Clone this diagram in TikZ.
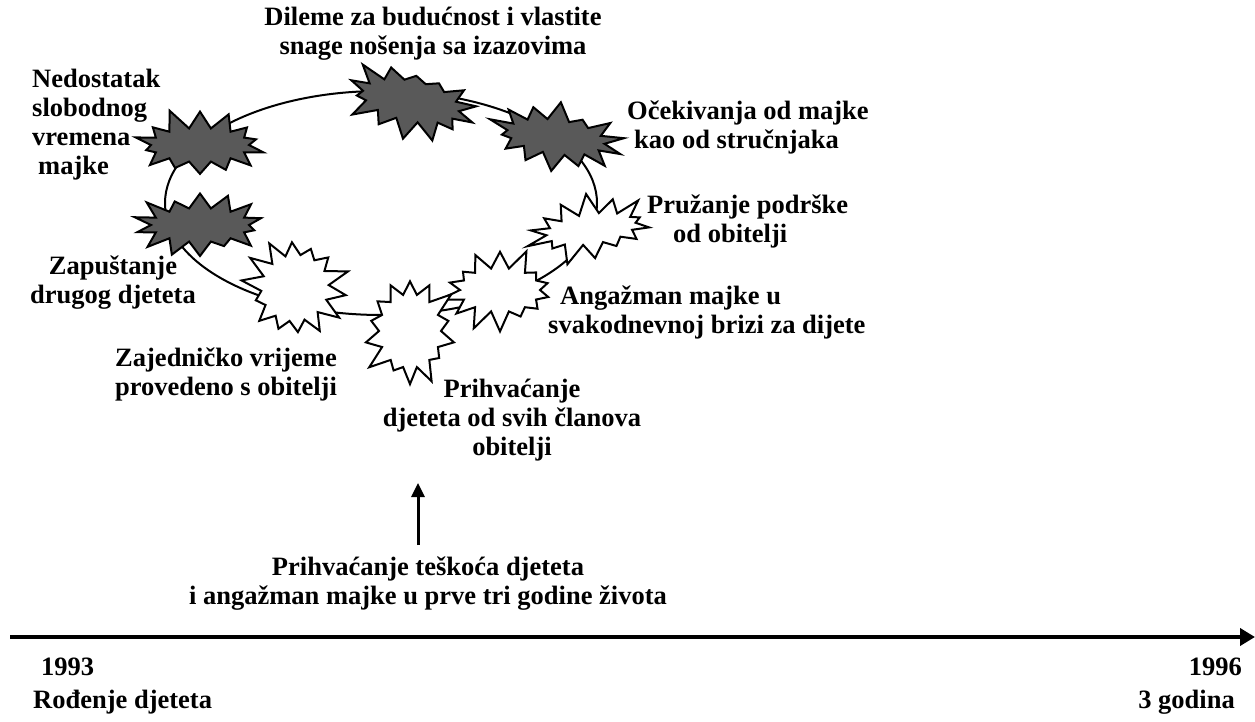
\documentclass[tikz,border=0pt]{standalone}
\usepackage{fontspec}
\setmainfont{Liberation Serif}
\usetikzlibrary{arrows.meta,backgrounds,shapes.symbols}
\definecolor{burstdark}{HTML}{595959}
\definecolor{inkblack}{HTML}{000000}
\tikzset{
  burst/.style={starburst,draw=inkblack,line width=2pt,starburst points=14,
    starburst point height=22pt,inner sep=0pt,minimum width=142pt,minimum height=78pt},
  darkburst/.style={burst,fill=burstdark},
  lightburst/.style={burst,fill=white},
  lbl/.style={font=\bfseries\fontsize{26.5}{29}\selectfont,inner sep=0pt,align=center},
  ring/.style={draw=inkblack,line width=2pt},
  timeline/.style={-{Triangle[length=15pt,width=17pt]},line width=4pt},
  uparrow/.style={-{Triangle[length=14pt,width=13pt]},line width=3pt}
}
\begin{document}
\begin{tikzpicture}[x=1pt,y=-1pt]
  \useasboundingbox (0,0) rectangle (1255,722);
  % problemi (tamno)
  \node[darkburst,random starburst=11] (ned) at (200,145) {};
  \node[darkburst,random starburst=23,rotate=-12,minimum height=84pt] (dil) at (411,101) {};
  \node[darkburst,random starburst=37,rotate=-8] (oce) at (556,137) {};
  \node[darkburst,random starburst=41] (zap) at (200,225) {};
  % podrska (bijelo)
  \node[lightburst,random starburst=53,minimum width=134pt,minimum height=74pt,rotate=8] (pru) at (591,229) {};
  \node[lightburst,random starburst=67,minimum width=124pt,minimum height=88pt] (ang) at (500,290) {};
  \node[lightburst,random starburst=71,minimum width=106pt,minimum height=118pt] (pri) at (410,331) {};
  \node[lightburst,random starburst=83,minimum width=112pt,minimum height=110pt,rotate=30] (zaj) at (295,288) {};
  % krug
  \coordinate (ringc) at (381,203);
  \begin{scope}[on background layer]
    \draw[ring] (ringc) ellipse [x radius=216, y radius=112];
  \end{scope}
  % natpisi
  \node[lbl] (dilt) at (433,34) {Dileme za budućnost i vlastite\\snage nošenja sa izazovima};
  \node[lbl,anchor=west,align=left] (nedt) at (32,125) {Nedostatak\\slobodnog\\vremena\\\hspace*{6pt}majke};
  \node[lbl,anchor=west,align=left] (ocet) at (627,127) {Očekivanja od majke\\\hspace*{7pt}kao od stručnjaka};
  \node[lbl,anchor=west,align=left] (prut) at (647,221) {Pružanje podrške\\\hspace*{26pt}od obitelji};
  \node[lbl,anchor=west,align=left] (angt) at (548,312) {\hspace*{12pt}Angažman majke u\\svakodnevnoj brizi za dijete};
  \node[lbl] (zapt) at (113,283) {Zapuštanje\\drugog djeteta};
  \node[lbl] (zajt) at (226,374) {Zajedničko vrijeme\\provedeno s obitelji};
  \node[lbl] (prit) at (512,420) {Prihvaćanje\\djeteta od svih članova\\obitelji};
  \node[lbl] (pocetak) at (428,584) {Prihvaćanje teškoća djeteta\\i angažman majke u prve tri godine života};
  % vremenska os
  \coordinate (a0) at (418,545);
  \coordinate (a1) at (418,483);
  \draw[uparrow] (a0) -- (a1);
  \coordinate (t0) at (10,637);
  \coordinate (t1) at (1255,637);
  \draw[timeline] (t0) -- (t1);
  \node[lbl,anchor=west,align=left] (god1) at (33,686) {\hspace*{8pt}1993\\[4pt]Rođenje djeteta};
  \node[lbl,anchor=east,align=right] (god2) at (1242,686) {1996\\[4pt]3 godina\hspace*{7pt}};
\end{tikzpicture}
\end{document}
